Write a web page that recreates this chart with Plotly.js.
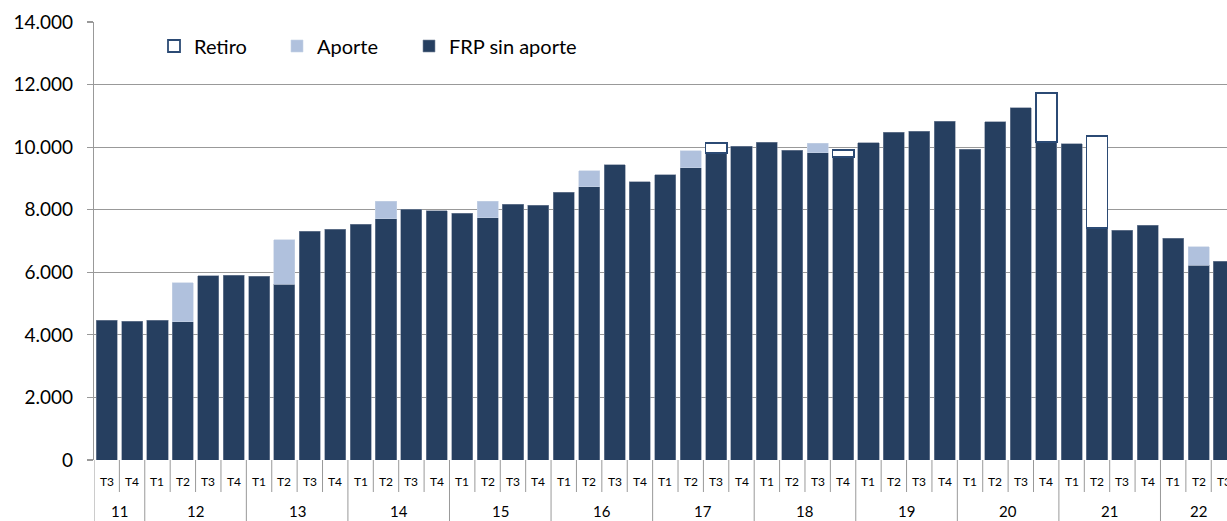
<!DOCTYPE html>
<html>
<head>
<meta charset="utf-8">
<script src="https://cdn.plot.ly/plotly-3.0.1.min.js"></script>
<style>html,body{margin:0;padding:0;background:#fff;overflow:hidden}#chart{width:1227px;height:521px}</style>
</head>
<body>
<div id="chart"></div>
<script>
// Quarter labels and year groups
const years = ['11','11','12','12','12','12','13','13','13','13','14','14','14','14','15','15','15','15','16','16','16','16','17','17','17','17','18','18','18','18','19','19','19','19','20','20','20','20','21','21','21','21','22','22','22'];
const quarters = ['T3','T4','T1','T2','T3','T4','T1','T2','T3','T4','T1','T2','T3','T4','T1','T2','T3','T4','T1','T2','T3','T4','T1','T2','T3','T4','T1','T2','T3','T4','T1','T2','T3','T4','T1','T2','T3','T4','T1','T2','T3','T4','T1','T2','T3'];
// Series values
const frpSinAporte = [4460,4440,4470,4420,5890,5910,5880,5610,7310,7370,7540,7710,8020,7970,7880,7740,8170,8150,8560,8735,9435,8900,9120,9340,9820,10035,10150,9905,9820,9695,10140,10480,10515,10825,9940,10815,11260,10175,10110,7425,7350,7500,7085,6230,6360];
const aporte = [null,null,null,1240,null,null,null,1430,null,null,null,555,null,null,null,525,null,null,null,510,null,null,null,545,null,null,null,null,300,null,null,null,null,null,null,null,null,null,null,null,null,null,null,590,null];
const retiro = [null,null,null,null,null,null,null,null,null,null,null,null,null,null,null,null,null,null,null,null,null,null,null,null,300,null,null,null,null,210,null,null,null,null,null,null,null,1565,null,2930,null,null,null,null,null];
const yTicks = [0,2000,4000,6000,8000,10000,12000,14000];

const cats = years.map((y,i)=> y + ' ' + quarters[i]);

const FONT = 'Lato, Noto Sans, sans-serif';
const dark = '#263f60';
const light = '#b0c1dd';
const gridc = '#999999';

const traces = [
  {type:'bar', name:'FRP sin aporte', x:cats, y:frpSinAporte, legend:'legend3',
   marker:{color:dark, line:{color:'#7d8ba0', width:0.6}}},
  {type:'bar', name:'Aporte', x:cats, y:aporte, legend:'legend2',
   marker:{color:light, line:{color:'#c8d3e6', width:0.6}}},
  {type:'bar', name:'Retiro', x:cats, y:retiro, legend:'legend',
   marker:{color:'#ffffff', line:{color:'#2b4a74', width:1.8}}}
];

// Separators and labels for the two-level category axis
const shapes = [];
const annotations = [];
const plotH = 438;
for (let i = 0; i <= cats.length; i++) {
  const isYearStart = (i === 0) || (i < cats.length && years[i] !== years[i-1]);
  shapes.push({type:'line', xref:'x', yref:'paper', x0:i-0.5, x1:i-0.5,
    y0:0, y1: isYearStart ? -61/plotH : -32/plotH,
    line:{color:gridc, width:1}});
}
quarters.forEach((q,i)=>{
  annotations.push({xref:'x', yref:'paper', x:i, y:-21/plotH, yanchor:'middle',
    text:q, showarrow:false, font:{family:FONT, size:12, color:'#000'}});
});
const groups = [];
years.forEach((y,i)=>{
  if (!groups.length || groups[groups.length-1].y !== y) groups.push({y:y, s:i, e:i});
  else groups[groups.length-1].e = i;
});
groups.forEach(g=>{
  annotations.push({xref:'x', yref:'paper', x:(g.s+g.e)/2, y:-51/plotH, yanchor:'middle',
    text:g.y, showarrow:false, font:{family:FONT, size:15, color:'#000'}});
});

function leg(xpx){
  return {orientation:'h', x:(xpx-94)/1133, xanchor:'left', y:1-(46-22)/plotH, yanchor:'middle',
    font:{size:20, color:'#000', family:FONT}, bgcolor:'rgba(0,0,0,0)'};
}

const layout = {
  width:1227, height:521,
  margin:{l:94, r:0, t:22, b:61, pad:0},
  paper_bgcolor:'#fff', plot_bgcolor:'#fff',
  separators:',.',
  barmode:'stack', bargap:0.17,
  font:{family:FONT, color:'#000'},
  showlegend:true,
  legend:leg(154), legend2:leg(277), legend3:leg(409),
  xaxis:{type:'category', range:[-0.5, 44.12], showticklabels:false, ticks:'', showgrid:false,
    showline:false, zeroline:false, fixedrange:true},
  yaxis:{range:[0,14000], tickvals:yTicks, tickformat:',d', showgrid:true, gridcolor:gridc, gridwidth:1.2,
    showline:true, linecolor:gridc, linewidth:1.2, ticks:'outside', ticklen:6, tickcolor:gridc, tickwidth:1.2,
    ticklabelstandoff:10, tickfont:{size:19, color:'#000', family:FONT}, zeroline:false},
  shapes:shapes,
  annotations:annotations
};

Plotly.newPlot('chart', traces, layout, {displayModeBar:false, staticPlot:true});
</script>
</body>
</html>
